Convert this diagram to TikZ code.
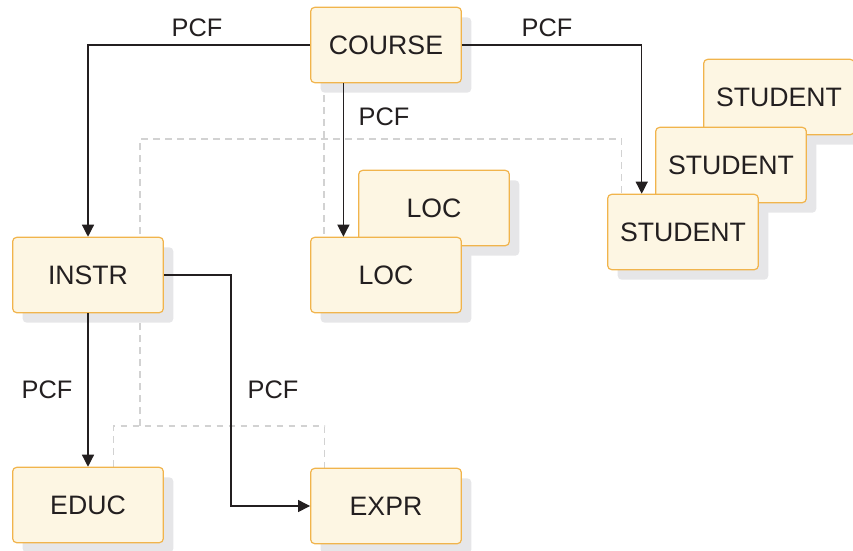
\documentclass[tikz,border=0pt]{standalone}
\usepackage{fontspec}
\setmainfont{Liberation Sans}
\usepackage{tikz}
\usetikzlibrary{positioning,arrows.meta,shadows,backgrounds}
\definecolor{cream}{HTML}{FDF6E3}
\definecolor{amber}{HTML}{F1B44C}
\definecolor{haze}{HTML}{E6E6E8}
\definecolor{ink}{HTML}{231F20}
\definecolor{rule}{HTML}{D2D2D2}

\begin{document}
\begin{tikzpicture}[x=0.75pt,y=-0.75pt,
    seg/.style={draw=amber,fill=cream,line width=0.9pt,rounded corners=3pt,
      minimum width=113pt,minimum height=56.5pt,text=ink,
      font=\fontsize{20}{24}\selectfont,
      drop shadow={shadow xshift=7.5pt,shadow yshift=-7.5pt,fill=haze,opacity=1}},
    pcf/.style={font=\fontsize{19}{22}\selectfont,text=ink},
    arr/.style={draw=ink,line width=0.9pt,-{Triangle[length=9pt,width=9pt]}},
    logic/.style={draw=rule,line width=0.9pt,dash pattern=on 5pt off 4pt}]
  \useasboundingbox (0,0) rectangle (853,550);

  % root segment
  \node[seg] (course) at (386,45) {COURSE};

  % student occurrences, back to front
  \foreach \i/\px/\py in {3/779/97,2/731/165,1/683/232}
    \node[seg] (stu\i) at (\px,\py) {STUDENT};

  % loc occurrences
  \node[seg] (loc2) at (434,208) {LOC};
  \node[seg] (loc1) at (386,275) {LOC};

  \node[seg] (instr) at (88,275) {INSTR};
  \node[seg] (educ) at (88,505) {EDUC};
  \node[seg] (expr) at (386,506) {EXPR};

  \coordinate (locin) at ([xshift=25pt]loc1.north west);
  \coordinate (stuin) at ([xshift=26pt]stu1.north west);

  % physical child pointers
  \draw[arr] (course.west) -| (instr.north);
  \draw[arr] (course.east) -| (stuin);
  \draw[arr] (course.south -| locin) -- (locin);
  \draw[arr] (instr.south) -- (educ.north);
  \draw[arr] (instr.east) -- ++(67,0) |- (expr.west);

  \node[pcf] (p1) at (197,28) {PCF};
  \node[pcf] (p2) at (547,28) {PCF};
  \node[pcf] (p3) at (384,117) {PCF};
  \node[pcf] (p4) at (47,390) {PCF};
  \node[pcf] (p5) at (273,390) {PCF};

  % logical structure
  \begin{scope}[on background layer]
    \coordinate (lc) at ([xshift=10.5pt]course.south west);
    \coordinate (lt) at (140,139);
    \coordinate (lb) at (140,426);
    \draw[logic] (lc) -- (lc |- loc1.north);
    \draw[logic] (lb) -- (lt) -| ([xshift=11pt]stu1.north west);
    \draw[logic] ([xshift=76pt]educ.north west) |- (lb)
      -| ([xshift=11pt]expr.north west);
  \end{scope}
\end{tikzpicture}
\end{document}
